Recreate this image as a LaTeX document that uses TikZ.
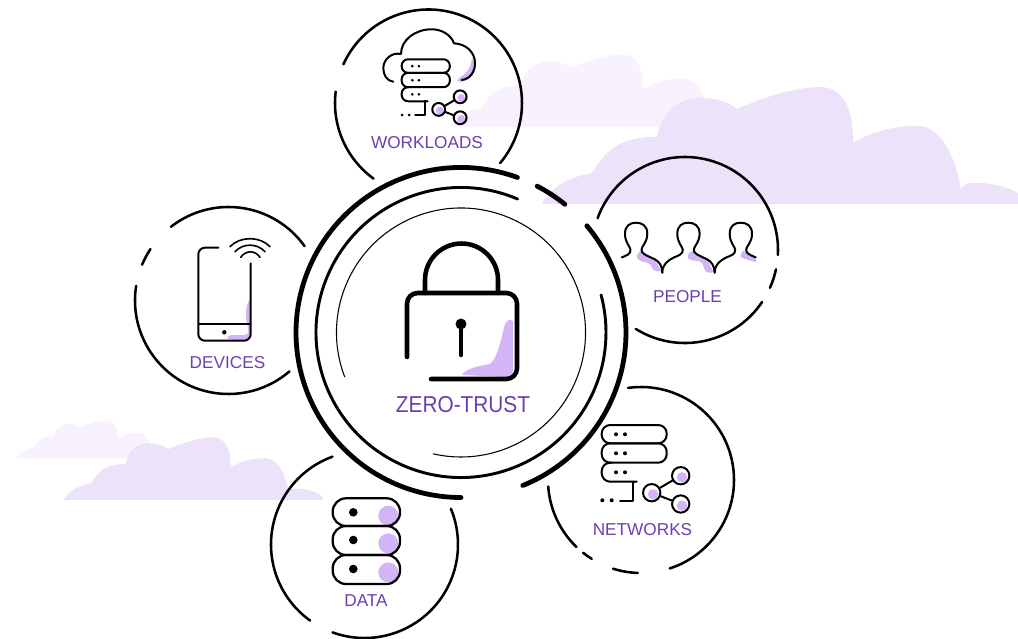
\documentclass[tikz,border=0pt]{standalone}
\usepackage{fontspec}
\setmainfont{Liberation Sans}
\newfontfamily\titlefont[FakeStretch=0.905]{Liberation Sans}

\definecolor{lilac}{HTML}{D2B4F7}
\definecolor{cloudmid}{HTML}{ECE3FB}
\definecolor{cloudpale}{HTML}{F7F2FE}
\definecolor{labelpurple}{HTML}{6A3FB0}

\tikzset{
  bigring/.style={line width=3.6pt,line cap=round},
  midring/.style={line width=2.2pt,line cap=round},
  thinring/.style={line width=0.8pt},
  orbit/.style={line width=1.9pt,line cap=round},
  lockline/.style={line width=3.4pt,line cap=round},
  iconline/.style={line width=1.5pt,line cap=round,line join=round},
  tag/.style={text=labelpurple,inner sep=0pt,font=\fontsize{12.9}{15}\selectfont},
  shareball/.style={circle,draw,inner sep=0pt,line width=1.5pt,minimum size=13pt*#1,
    path picture={\fill[lilac] ([shift={(1pt*#1,-1.2pt*#1)}]path picture bounding box.center) circle[radius=3.9pt*#1];}},
}

% arc round a named centre: centre, radius, start angle, end angle
\newcommand{\ringarc}[5]{\draw[#1] ([shift={(#4:#3)}]#2) arc[start angle=#4,end angle=#5,radius=#3];}

% cloud: left end of base, base height, scale, colour
\newcommand{\puff}[4]{\fill[#4,shift={(#1,#2)},scale=#3]
  (0,0) .. controls (5,-12) and (21,-26) .. (50,-31)
  .. controls (62,-50) and (75,-68) .. (115,-67)
  .. controls (120,-95) and (139,-106) .. (160,-106)
  .. controls (174,-106) and (187,-102) .. (195,-95)
  .. controls (224,-108) and (256,-117) .. (278,-117)
  .. controls (301,-117) and (312,-95) .. (311,-61)
  .. controls (331,-73) and (352,-78) .. (376,-78)
  .. controls (400,-78) and (414,-45) .. (419,-14)
  .. controls (421,-22) and (430,-21) .. (438,-21)
  .. controls (455,-21) and (481,-12) .. (483,-4)
  .. controls (483,-1) and (482,0) .. (479,0) -- cycle;}

% server stack with share symbol: prefix, origin, scale
\newcommand{\serverstack}[3]{
\begin{scope}[shift={#2},scale=#3]
\draw[iconline,rounded corners=6.4pt*#3] (0,0) rectangle (65,18.3);
\draw[iconline,rounded corners=6.4pt*#3] (0,18.3) rectangle (65,37.7);
\draw[iconline,rounded corners=6.4pt*#3] (35,56.7) -- (0,56.7) -- (0,37.7) -- (10,37.7);
\draw[iconline] (33,56.7) -- (31,56.7) -- (31,75.7) -- (18.3,75.7);
\foreach \y in {9.3,28.3,47.3} {
  \fill (14.3,\y) circle [radius=2];
  \fill (23.3,\y) circle [radius=2];
}
\fill (0.6,75.3) circle [radius=2];
\fill (10,75.3) circle [radius=2];
\node[shareball=#3] (#1hub) at (50,67.7) {};
\node[shareball=#3] (#1up) at (79,50.7) {};
\node[shareball=#3] (#1down) at (79,79) {};
\draw[iconline] (#1hub) -- (#1up);
\draw[iconline] (#1hub) -- (#1down);
\end{scope}
}

% one bust: head centre x, path to the left shoulder, right shoulder end
\newcommand{\bust}[3]{\draw[iconline,shift={(#1,222.7)}] #2
  .. controls (-10,33) and (-5,31.5) .. (-5.5,27)
  .. controls (-6,23.5) and (-11,20) .. (-11,11)
  .. controls (-11,3) and (-6,0) .. (0,0)
  .. controls (6,0) and (11.3,3) .. (11.3,11)
  .. controls (11.3,20) and (5.5,23.5) .. (5.5,27)
  .. controls (5.5,31) and (9,32) .. #3;}

\begin{document}
\begin{tikzpicture}[x=0.75pt,y=0.75pt,yscale=-1]
\useasboundingbox (0,0) rectangle (1018,639);

\coordinate (LOCK) at (461,332.5);
\coordinate (WL) at (428.5,103);
\coordinate (PP) at (685,250);
\coordinate (NW) at (641,480);
\coordinate (DT) at (364.5,544.5);
\coordinate (DV) at (228.5,300.5);

\puff{450}{127}{0.62}{cloudpale}
\puff{542}{204}{1}{cloudmid}
\puff{17}{458}{0.323}{cloudpale}
\puff{64}{500}{0.536}{cloudmid}

% rings
\ringarc{bigring}{LOCK}{165}{-70}{-270}
\ringarc{bigring}{LOCK}{165}{-62.5}{-51}
\ringarc{bigring}{LOCK}{165}{-40.3}{68}
\ringarc{midring}{LOCK}{145}{-67}{-375}
\ringarc{thinring}{LOCK}{124.5}{159}{463}

% lock
\fill[lilac] (462,375) .. controls (466,368) and (480,366) .. (490,364)
  .. controls (498,358) and (502,335) .. (505,324)
  .. controls (507,319) and (512,319) .. (513,322) -- (513,372)
  .. controls (513,375) and (510,377) .. (507,377) -- cycle;
\draw[lockline] (425,293) -- (425,280) arc[start angle=180,end angle=360,radius=36.5] -- (498,293);
\draw[lockline,rounded corners=8] (407,357) -- (407,293) -- (517,293) -- (517,379) -- (431,379);
\fill (461,324) circle [radius=5.5];
\draw[lockline] (461,326) -- (461,355);
\node[tag,font=\titlefont\fontsize{17.25}{20}\selectfont] (ztlabel) at (463,405) {ZERO-TRUST};

% workloads
\ringarc{orbit}{WL}{93.5}{204.4}{400}
\ringarc{orbit}{WL}{93.5}{126}{187}
\fill[lilac] (457,81) .. controls (459,75) and (470,76) .. (472,58)
  .. controls (475,62) and (476,72) .. (472,76) .. controls (468,81) and (460,83) .. (457,81) -- cycle;
\draw[iconline] (393.3,81.7) .. controls (387,81) and (383.3,75) .. (383.3,68.3)
  .. controls (383.3,59) and (392,52) .. (401,54)
  .. controls (401,40) and (415,29.3) .. (431.7,29.3)
  .. controls (442,29.3) and (451,35) .. (454,43.3)
  .. controls (466,44) and (475,52) .. (475,63.3)
  .. controls (475,72) and (470,79) .. (461.7,80);
\serverstack{wl}{(401.7,59.3)}{0.74}
\node[tag] (wllabel) at (427,142.5) {WORKLOADS};

% people
\ringarc{orbit}{PP}{93}{200}{363}
\ringarc{orbit}{PP}{93}{12}{24}
\ringarc{orbit}{PP}{93}{34}{122}
\fill[lilac,rounded corners=2] (636,257.4) -- (640,250) -- (655,260) -- (661.7,271.7) -- (653.3,270.7) -- (650,263.4) -- (640,261) -- cycle;
\fill[lilac,rounded corners=2] (686.6,256.7) -- (691.6,250) -- (706.6,258.4) -- (714,272.7) -- (706,272.7) -- (701.6,261.7) -- (690,260) -- cycle;
\fill[lilac,rounded corners=2] (739.4,257.4) -- (743.4,249.4) -- (755.7,258.4) -- (756.7,262.7) -- (746.7,259.4) -- cycle;
\bust{636}{(-14.3,34.7)}{(19,36.7) .. controls (23,39) and (26.3,43) .. (26.3,50)}
\bust{688.3}{(-26,50) .. controls (-26,42) and (-21,38) .. (-14.3,34.7)}{(19,36.7) .. controls (23,39) and (26.3,43) .. (26.3,50)}
\bust{740.7}{(-26,50) .. controls (-26,42) and (-21,38) .. (-14.3,34.7)}{(15,34.7)}
\node[tag] (pplabel) at (687.5,296.5) {PEOPLE};

% networks
\ringarc{orbit}{NW}{93}{262}{432}
\ringarc{orbit}{NW}{93}{92}{107.5}
\ringarc{orbit}{NW}{93}{122}{128.5}
\ringarc{orbit}{NW}{93}{134}{176}
\serverstack{nw}{(601.7,425)}{1}
\node[tag] (nwlabel) at (642.5,529.5) {NETWORKS};

% data
\ringarc{orbit}{DT}{93.5}{250}{125.5}
\ringarc{orbit}{DT}{93.5}{110}{-22.5}
\foreach \y/\z in {498.3/526,526/555,555/584} {
  \fill[lilac] (388.3,\y+17.4) circle [radius=10];
  \draw[iconline,line width=1.7pt,rounded corners=10] (332.7,\y) rectangle (400,\z);
  \fill (353.3,\y+14) circle [radius=4.3];
}
\node[tag] (dtlabel) at (366,600.5) {DATA};

% devices
\ringarc{orbit}{DV}{93.5}{232}{324.5}
\ringarc{orbit}{DV}{93.5}{213.4}{202.5}
\ringarc{orbit}{DV}{93.5}{189}{49.3}
\fill[lilac] (227.3,339.3) .. controls (228,336) and (229,335) .. (232,335)
  -- (243.3,335) .. controls (248,335) and (249,333) .. (248,328)
  .. controls (246,320) and (244,310) .. (249.3,300) -- (250.5,300) -- (250.5,334)
  .. controls (250.5,337) and (247,340) .. (244,340) -- cycle;
\draw[iconline,rounded corners=5] (218.3,247.7) -- (198.3,247.7) -- (198.3,340.7) -- (250.7,340.7) -- (250.7,263.3);
\draw[iconline] (198.3,324) -- (250.7,324);
\fill (224.3,332.3) circle [radius=2.2];
\draw[iconline,line width=1.2pt] (230,246.7) .. controls (240,236) and (260,236) .. (270,246.7);
\draw[iconline,line width=1.2pt] (235,251.7) .. controls (243,243) and (257,243) .. (265,251.7);
\draw[iconline,line width=1.2pt] (240.7,257.3) .. controls (246,250) and (255,250) .. (260,257.3);
\node[tag] (dvlabel) at (227.5,362.5) {DEVICES};
\end{tikzpicture}
\end{document}
